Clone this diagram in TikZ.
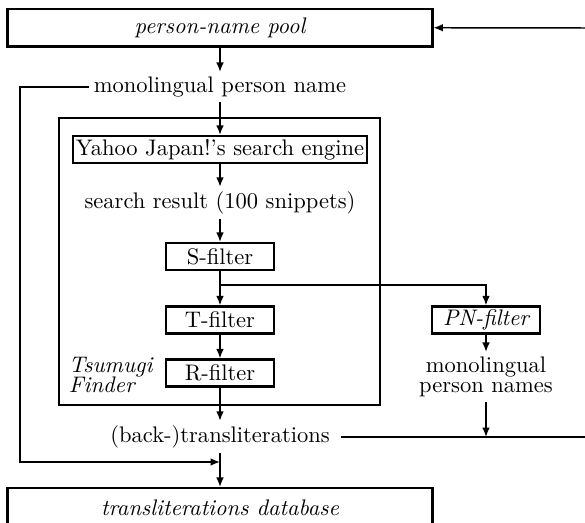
\documentclass[tikz,border=0pt]{standalone}
\usetikzlibrary{arrows.meta}
\begin{document}
\begin{tikzpicture}[x=0.444pt,y=-0.444pt,
  conn/.style={line width=0.65pt,-{Latex[length=4.2pt,width=3.4pt]}},
  thickline/.style={line width=1.1pt},
  bigbox/.style={draw,line width=0.9pt,inner sep=0pt,font=\itshape},
  filterbox/.style={draw,line width=1pt,inner sep=0pt,minimum height=12pt},
  lbl/.style={inner sep=2pt}]
\useasboundingbox (0,0) rectangle (585,523);
\clip (0,0) rectangle (585,523);
% boxes
\node[bigbox,minimum width=188.7pt,minimum height=16.65pt] (pool) at (220,27.75) {person-name pool};
\node[draw,line width=0.75pt,inner sep=0pt,minimum width=142.5pt,minimum height=127.4pt] (finder) at (219.5,261.5) {};
\node[filterbox,minimum width=130.5pt] (yahoo) at (220,149.5) {Yahoo Japan!'s search engine};
\node[filterbox,minimum width=48pt] (sf) at (220,256.5) {S-filter};
\node[filterbox,minimum width=48pt] (tf) at (220,320) {T-filter};
\node[filterbox,minimum width=48pt] (rf) at (220,373) {R-filter};
\node[filterbox,minimum width=48pt,font=\itshape] (pn) at (486,320) {PN-filter};
\node[bigbox,minimum width=188.7pt,minimum height=17.8pt] (db) at (220,508) {transliterations database};
% labels
\node[lbl] (mono) at (220,87) {monolingual person name};
\node[lbl] (search) at (220,203) {search result (100 snippets)};
\node[lbl,align=center] (names) at (486,377) {monolingual\\[-3pt]person names};
\node[lbl,align=left,anchor=west,font=\itshape] (tsu) at (64,375) {Tsumugi\\[-3pt]Finder};
\node[lbl] (tr) at (220,437) {(back-)transliterations};
% coordinates
\coordinate (rt) at (585,28);
\coordinate (lc) at (20,87);
\coordinate (lj) at (220,462);
\coordinate (br) at (220,285);
\coordinate (j) at (486,437);
\coordinate (re) at (585,437);
% connectors
\draw[conn] (rt) -- (pool.east);
\draw[conn] (pool.south) -- (mono.north);
\draw[conn] (mono.south) -- (yahoo.north);
\draw[conn] (yahoo.south) -- (search.north);
\draw[conn] (search.south) -- (sf.north);
\draw[conn] (sf.south) -- (tf.north);
\draw[conn] (tf.south) -- (rf.north);
\draw[conn] (rf.south) -- (tr.north);
\draw[conn] (tr.south) -- (db.north);
\draw[conn] (br) -| (pn.north);
\draw[conn] (pn.south) -- (names.north);
\draw[conn] (names.south) -- (j);
\draw[conn] (mono.west) -- (lc) |- (lj);
\draw[thickline] ([xshift=3pt]tr.east) -- (re);
\end{tikzpicture}
\end{document}
